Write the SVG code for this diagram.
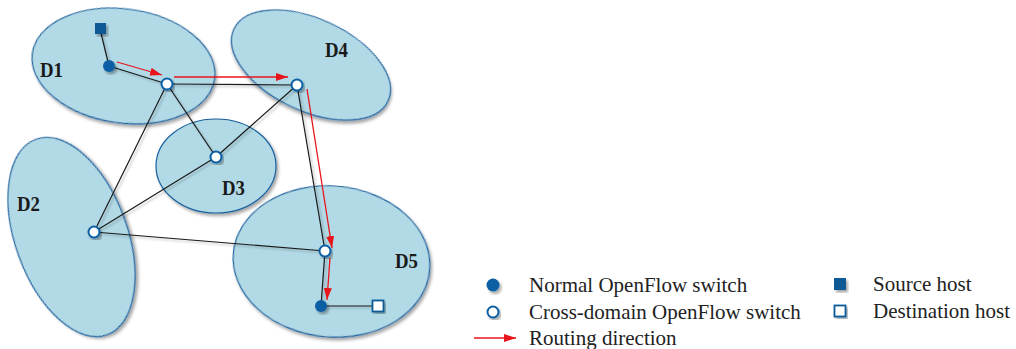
<svg xmlns="http://www.w3.org/2000/svg" width="1016" height="349" viewBox="0 0 1016 349">
<defs>
<filter id="sh" x="-20%" y="-20%" width="140%" height="140%">
<feDropShadow dx="2" dy="2.5" stdDeviation="1.5" flood-color="#000" flood-opacity="0.35"/>
</filter>
<filter id="lsh" x="-5%" y="-5%" width="110%" height="110%">
<feDropShadow dx="2" dy="2" stdDeviation="0.8" flood-color="#000" flood-opacity="0.25"/>
</filter>
<marker id="ah" viewBox="0 0 12 8" refX="12" refY="4" markerWidth="12" markerHeight="8" markerUnits="userSpaceOnUse" orient="auto">
<path d="M0,0 L12,4 L0,8 Z" fill="#e8141b"/>
</marker>
</defs>
<style>
.dom{fill:#b2dae6;stroke:#17609e;stroke-width:1.2;filter:url(#sh)}
.lbl{font-family:"Liberation Serif",serif;font-weight:bold;font-size:21px;fill:#1a1a1a}
.edge{stroke:#1a1a1a;stroke-width:1.2;fill:none}
.route{stroke:#e8141b;stroke-width:1.3;fill:none;marker-end:url(#ah)}
.cs{fill:#fff;stroke:#0b5fa5;stroke-width:2;filter:url(#sh)}
.ns{fill:#0b5fa5;filter:url(#sh)}
.src{fill:#0b5a96;filter:url(#sh)}
.dst{fill:#fff;stroke:#0b5a96;stroke-width:1.8;filter:url(#sh)}
.leg{font-family:"Liberation Serif",serif;font-size:21px;fill:#222}
</style>
<g id="domains">
<g id="D1"><ellipse class="dom" cx="0" cy="0" rx="92" ry="57" transform="translate(123.5,66) rotate(8)"/><text class="lbl" x="40" y="77" textLength="23" lengthAdjust="spacingAndGlyphs">D1</text></g>
<g id="D4"><ellipse class="dom" cx="0" cy="0" rx="85" ry="46" transform="translate(311,65) rotate(25)"/><text class="lbl" x="325" y="57" textLength="23" lengthAdjust="spacingAndGlyphs">D4</text></g>
<g id="D3"><ellipse class="dom" cx="216" cy="166" rx="60" ry="47"/><text class="lbl" x="222" y="195" textLength="23" lengthAdjust="spacingAndGlyphs">D3</text></g>
<g id="D2"><ellipse class="dom" cx="0" cy="0" rx="56" ry="104" transform="translate(71.5,237) rotate(-20)"/><text class="lbl" x="17" y="211" textLength="23" lengthAdjust="spacingAndGlyphs">D2</text></g>
<g id="D5"><ellipse class="dom" cx="0" cy="0" rx="98.5" ry="75.5" transform="translate(331.5,261.5) rotate(5)"/><text class="lbl" x="395" y="268" textLength="23" lengthAdjust="spacingAndGlyphs">D5</text></g>
</g>
<g id="connectors">
<g filter="url(#lsh)">
<line class="edge" x1="100" y1="29" x2="109" y2="66"/>
<line class="edge" x1="109" y1="66" x2="167" y2="84"/>
<line class="edge" x1="167" y1="84" x2="297" y2="85"/>
<line class="edge" x1="167" y1="84" x2="216" y2="157"/>
<line class="edge" x1="167" y1="84" x2="94" y2="232"/>
<line class="edge" x1="297" y1="85" x2="216" y2="157"/>
<line class="edge" x1="297" y1="85" x2="325" y2="251"/>
<line class="edge" x1="216" y1="157" x2="94" y2="232"/>
<line class="edge" x1="94" y1="232" x2="325" y2="251"/>
<line class="edge" x1="325" y1="251" x2="321" y2="306"/>
<line class="edge" x1="321" y1="306" x2="378" y2="306"/>
</g>
<line class="route" x1="117" y1="62" x2="162" y2="75"/>
<line class="route" x1="174" y1="77" x2="288" y2="77"/>
<line class="route" x1="307" y1="89" x2="332" y2="248"/>
<line class="route" x1="330" y1="258" x2="327" y2="300"/>
</g>
<g id="nodes">
<rect id="src-host" class="src" x="95" y="23" width="11" height="11"/>
<circle id="ns1" class="ns" cx="109" cy="66" r="6"/>
<circle id="cs1" class="cs" cx="167" cy="84" r="5.5"/>
<circle id="cs4" class="cs" cx="297" cy="85" r="5.5"/>
<circle id="cs3" class="cs" cx="216" cy="157" r="5.5"/>
<circle id="cs2" class="cs" cx="94" cy="232" r="5.5"/>
<circle id="cs5" class="cs" cx="325" cy="251" r="5.5"/>
<circle id="ns5" class="ns" cx="321" cy="306" r="6"/>
<rect id="dst-host" class="dst" x="372.5" y="300.5" width="11" height="11"/>
</g>
<g id="legend">
<circle class="ns" cx="493" cy="285" r="6.5"/>
<text class="leg" x="529" y="292">Normal OpenFlow switch</text>
<circle class="cs" cx="493" cy="312" r="5.5"/>
<text class="leg" x="529" y="319">Cross-domain OpenFlow switch</text>
<line class="route" x1="474" y1="338" x2="516" y2="338"/>
<text class="leg" x="529" y="345">Routing direction</text>
<rect class="src" x="834" y="278" width="12" height="12"/>
<text class="leg" x="873" y="291">Source host</text>
<rect class="dst" x="834.5" y="305.5" width="11" height="11"/>
<text class="leg" x="873" y="318">Destination host</text>
</g>
</svg>
